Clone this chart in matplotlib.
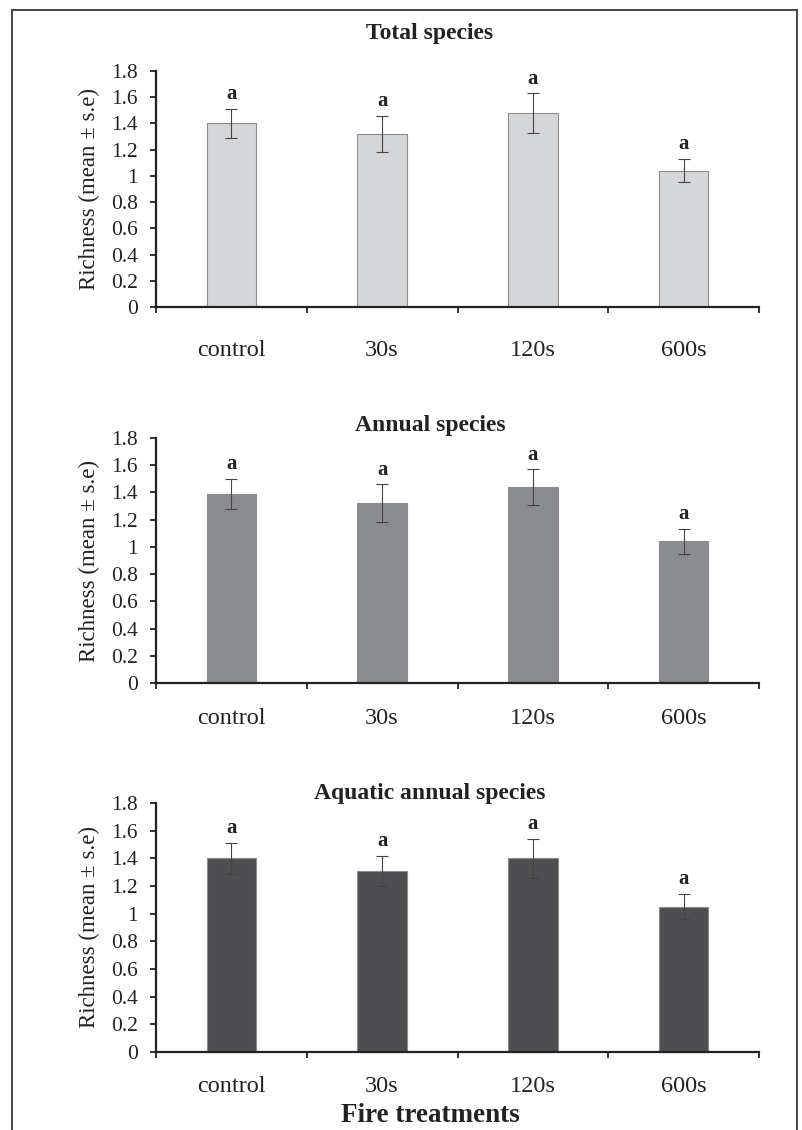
import matplotlib
matplotlib.use("Agg")
import matplotlib.pyplot as plt
from matplotlib.patches import Rectangle
import numpy as np

plt.rcParams["font.family"] = ["Liberation Serif", "DejaVu Serif"]

treatments = ["control", "30s", "120s", "600s"]

total_mean = [1.40, 1.32, 1.48, 1.04]
total_se = [0.11, 0.14, 0.15, 0.09]

annual_mean = [1.39, 1.32, 1.44, 1.04]
annual_se = [0.11, 0.14, 0.13, 0.09]

aquatic_mean = [1.40, 1.31, 1.40, 1.05]
aquatic_se = [0.11, 0.11, 0.14, 0.09]

letters = ["a", "a", "a", "a"]
yticks = [0, 0.2, 0.4, 0.6, 0.8, 1, 1.2, 1.4, 1.6, 1.8]

W, H = 802, 1130
fig = plt.figure(figsize=(W / 100, H / 100), dpi=100)

# frame round the whole figure
fig.patches.append(Rectangle((12 / W, -0.01), 785 / W, 1 - 10 / H + 0.01,
                             transform=fig.transFigure, fill=False,
                             edgecolor="#444444", linewidth=1.4))

panels = [
    # title, means, se, colour, axis top px, axis bottom px, title y px, label pad
    ("Total species", total_mean, total_se, "#d5d6d8", 71, 307, 33, 24),
    ("Annual species", annual_mean, annual_se, "#8a8b8f", 438, 683, 425, 18),
    ("Aquatic annual species", aquatic_mean, aquatic_se, "#4e4e50", 803, 1052, 793, 17),
]

x = np.arange(len(treatments))
for title, mean, se, col, top, bot, ty, pad in panels:
    ax = fig.add_axes([156 / W, 1 - bot / H, 603 / W, (bot - top) / H])
    ax.bar(x, mean, width=0.33, color=col, edgecolor="#8c8c8c", linewidth=0.8, zorder=2)
    ax.errorbar(x, mean, yerr=se, fmt="none", ecolor="#444444", elinewidth=0.8,
                capsize=4, capthick=0.8, zorder=3)
    for xi, m, s, lt in zip(x, mean, se, letters):
        ax.text(xi, m + s + 0.035, lt, ha="center", va="bottom",
                fontsize=15, fontweight="bold", color="#222222")

    ax.set_xlim(-0.5, 3.5)
    ax.set_ylim(0, 1.8)
    ax.set_yticks(yticks)
    ax.set_yticklabels(["0", "0.2", "0.4", "0.6", "0.8", "1", "1.2", "1.4", "1.6", "1.8"])
    ax.set_xticks(x)
    ax.set_xticklabels(treatments)
    ax.set_xticks(np.arange(-0.5, 4, 1), minor=True)
    ax.tick_params(axis="x", which="major", length=0, pad=pad, labelsize=17.5, colors="#222222")
    ax.tick_params(axis="x", which="minor", length=4, width=1.3, direction="out", color="#222222")
    ax.tick_params(axis="y", length=4, width=1.3, direction="out", labelsize=15.5,
                   colors="#222222", pad=9)

    for side in ("top", "right"):
        ax.spines[side].set_visible(False)
    for side in ("left", "bottom"):
        ax.spines[side].set_linewidth(1.6)
        ax.spines[side].set_color("#222222")

    ax.set_ylabel("Richness (mean \u00b1 s.e)", fontsize=16.5, color="#222222")
    ax.yaxis.set_label_coords(-0.093, 0.5)

    fig.text(430 / W, 1 - ty / H, title, ha="center", va="center",
             fontsize=17, fontweight="bold", color="#222222")

fig.text(430 / W, 1 - 1116 / H, "Fire treatments", ha="center", va="center",
         fontsize=19.5, fontweight="bold", color="#222222")

fig.savefig("out.png", dpi=100, facecolor="white")
